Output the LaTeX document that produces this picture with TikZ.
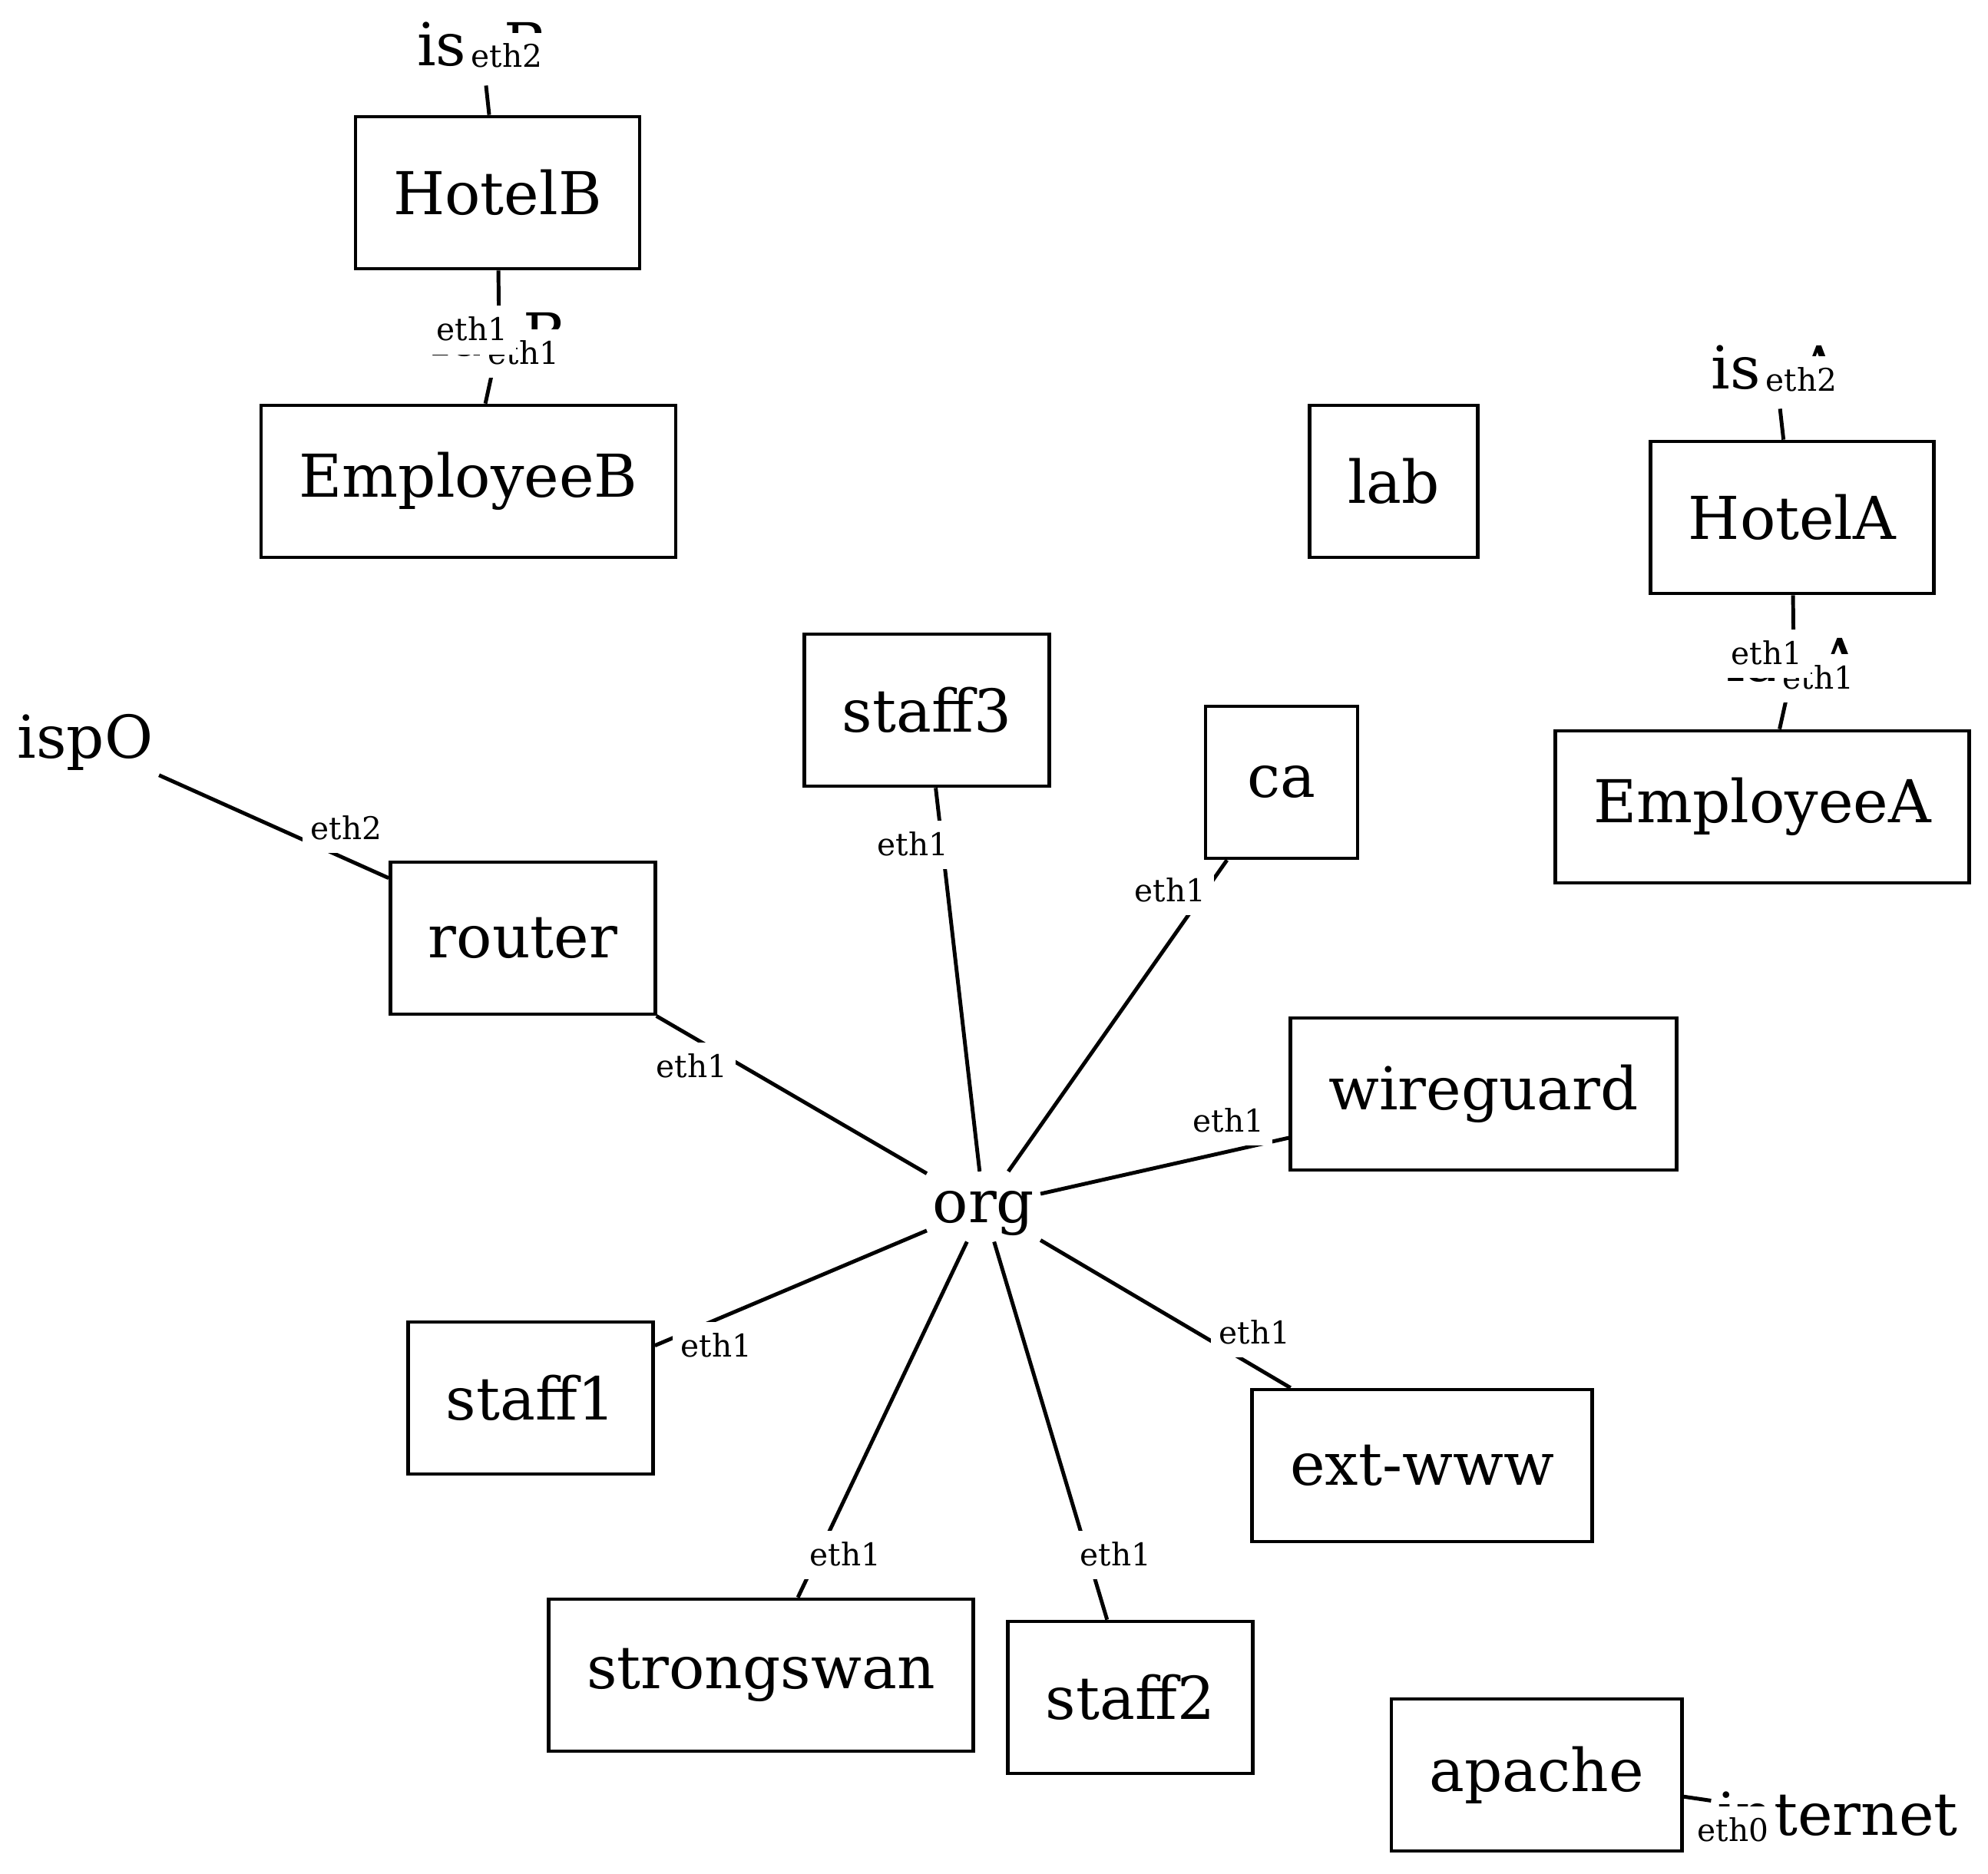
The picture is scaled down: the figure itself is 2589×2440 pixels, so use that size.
\documentclass[tikz,border=0pt]{standalone}
\usepackage{fontspec}
\setmainfont{DejaVu Serif}

\begin{document}
\begin{tikzpicture}[
            x = 0.181818pt, % one unit = one pixel of the layout
            y = -0.181818pt,
            line width = 0.85pt, % line style
            every edge/.style = {draw, line width = 0.9pt}
        ]

        \tikzstyle{host}=[
            draw,
            line width = 0.85pt,
            minimum height = 36pt,
            minimum width = 36pt,
            inner xsep = 9pt,
            font = \fontsize{14}{16}\selectfont
        ]
        \tikzstyle{net}=[
            inner xsep = 1pt,
            inner ysep = 0.6pt,
            text height = 11pt,
            text depth = 3.6pt,
            anchor = base,
            font = \fontsize{14}{16}\selectfont
        ]
        \tikzstyle{port}=[
            fill = white,
            inner xsep = 2pt,
            inner ysep = 0.6pt,
            text height = 7.5pt,
            text depth = 2.6pt,
            anchor = base,
            font = \fontsize{7.4}{8}\selectfont
        ]

	\useasboundingbox (0,0) rectangle (2589,2440);

	\node[host] (hotelB) at (648,251) {HotelB};
	\node[host] (employeeB) at (610,627) {EmployeeB};
	\node[host] (lab) at (1815,627) {lab};
	\node[host] (hotelA) at (2334,674) {HotelA};
	\node[host] (employeeA) at (2295,1051) {EmployeeA};
	\node[host] (staff3) at (1207,925) {staff3};
	\node[host] (ca) at (1669,1019) {ca};
	\node[host] (router) at (681,1222) {router};
	\node[host] (wireguard) at (1932,1425) {wireguard};
	\node[host] (staff1) at (691,1821) {staff1};
	\node[host] (extwww) at (1852,1909) {ext-www};
	\node[host] (strongswan) at (991,2182) {strongswan};
	\node[host] (staff2) at (1472,2211) {staff2};
	\node[host] (apache) at (2001,2312) {apache};

	\node[net] (ispB) at (628,86) {ispB};
	\node[net] (lanB) at (650,464) {lanB};
	\node[net] (ispA) at (2313,507) {ispA};
	\node[net] (lanA) at (2336,887) {lanA};
	\node[net] (ispO) at (111,987) {ispO};
	\node[net] (org) at (1281,1592) {org};
	\node[net] (internet) at (2393,2390) {internet};

	\path (ispO) edge (router);
	\path (router) edge (org);
	\path (staff3) edge (org);
	\path (ca) edge (org);
	\path (wireguard) edge (org);
	\path (extwww) edge (org);
	\path (staff1) edge (org);
	\path (strongswan) edge (org);
	\path (staff2) edge (org);
	\path (hotelB) edge (ispB);
	\path (hotelB) edge (lanB);
	\path (employeeB) edge (lanB);
	\path (hotelA) edge (ispA);
	\path (hotelA) edge (lanA);
	\path (employeeA) edge (lanA);
	\path (apache) edge (internet);

	% interface names at the host ends
	\node[port] (pRouter2) at (451,1093) {eth2};
	\node[port] (pRouter1) at (901,1403) {eth1};
	\node[port] (pStaff3) at (1189,1114) {eth1};
	\node[port] (pCa) at (1524,1174) {eth1};
	\node[port] (pWireguard) at (1600,1474) {eth1};
	\node[port] (pExtwww) at (1634,1750) {eth1};
	\node[port] (pStaff1) at (933,1767) {eth1};
	\node[port] (pStrongswan) at (1101,2039) {eth1};
	\node[port] (pStaff2) at (1453,2039) {eth1};
	\node[port] (pApache) at (2257,2398) {eth0};
	\node[port] (pHotelB2) at (660,88) {eth2};
	\node[port] (pEmployeeB) at (682,474) {eth1};
	\node[port] (pHotelB1) at (615,444) {eth1};
	\node[port] (pHotelA2) at (2346,509) {eth2};
	\node[port] (pEmployeeA) at (2368,897) {eth1};
	\node[port] (pHotelA1) at (2301,865) {eth1};

    \end{tikzpicture}
\end{document}
